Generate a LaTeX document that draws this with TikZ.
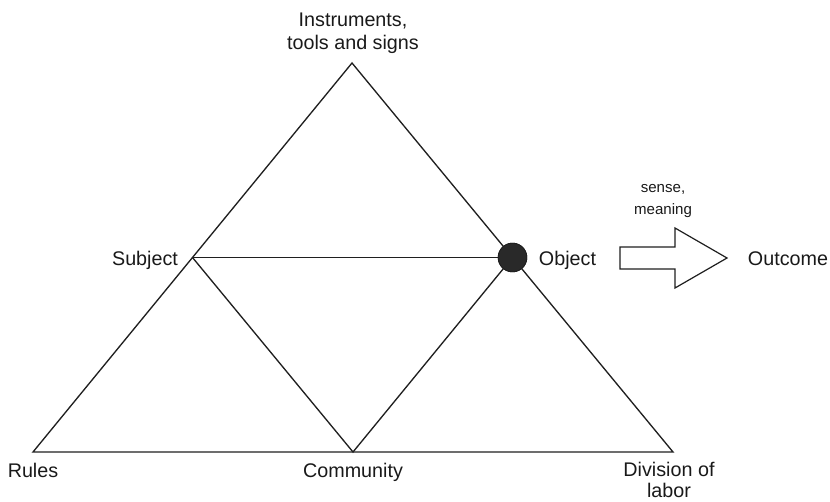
\documentclass[tikz,border=0pt]{standalone}
\usepackage{fontspec}
\setmainfont{Liberation Sans}
\begin{document}
\begin{tikzpicture}[x=0.75pt,y=-0.75pt,
  lbl/.style={font=\fontsize{14.8}{17.25}\selectfont, inner sep=0pt, align=center, text=black!90},
  smalllbl/.style={font=\fontsize{11.3}{16.5}\selectfont, inner sep=0pt, align=center, text=black!90},
  edge/.style={draw=black!88, line width=1pt, line join=miter},
  dot/.style={circle, fill=black!84, draw=black!88, line width=0.6pt, minimum size=21.5pt, inner sep=0pt},
  bigarrow/.style={draw=black!88, line width=0.9pt, fill=white, line join=miter}]
\useasboundingbox (0,0) rectangle (830,502);
% vertices
\coordinate (T) at (352,63);
\coordinate (BL) at (33,452);
\coordinate (BR) at (673,452);
\coordinate (BM) at (353,452);
\coordinate (S) at (192.5,257.5);
\node[dot] (O) at (512.5,257.5) {};
% connectors
\draw[edge] (T) -- (BL) -- (BR) -- cycle;
\draw[edge] (S) -- (O.center);
\draw[edge] (S) -- (BM) -- (O.center);
\node[dot] at (O.center) {};
% labels
\node[lbl] (instr) at (353,33.5) {Instruments,\\tools and signs};
\node[lbl, anchor=base] (subj) at (145,265) {Subject};
\node[lbl, anchor=base] (obj) at (567.5,265) {Object};
\node[lbl, anchor=base] (outc) at (788,265) {Outcome};
\node[lbl, anchor=base] (rules) at (33,477) {Rules};
\node[lbl, anchor=base] (comm) at (353,477) {Community};
\node[lbl, font=\fontsize{14.8}{16}\selectfont] (div) at (669,480) {Division of\\labor};
\node[smalllbl] (sense) at (663,201.5) {sense,\\meaning};
% block arrow
\draw[bigarrow] (620,247) -- (675,247) -- (675,228) -- (727,258) -- (675,288) -- (675,269) -- (620,269) -- cycle;
\end{tikzpicture}
\end{document}
